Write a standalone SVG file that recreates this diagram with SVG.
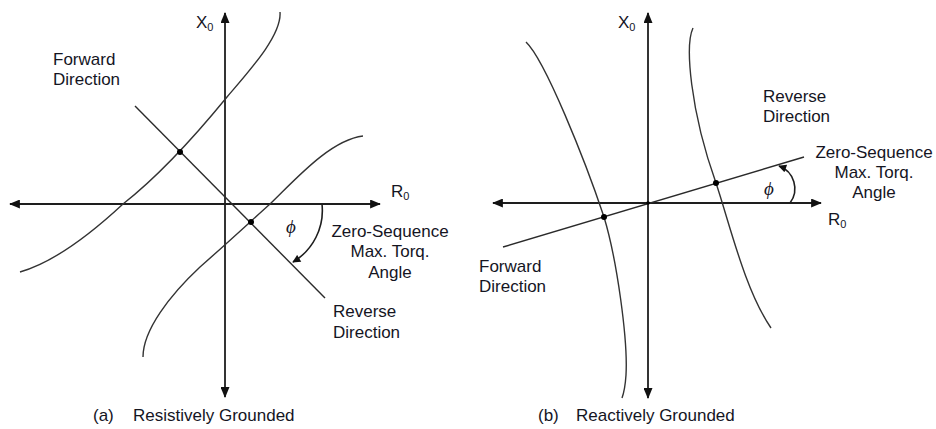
<svg xmlns="http://www.w3.org/2000/svg" width="936" height="429" viewBox="0 0 936 429">
<style>
  text { font-family: "Liberation Sans", Arial, sans-serif; font-size: 17px; fill: #15151f; }
  .mid { text-anchor: middle; }
  .sub { font-size: 11px; }
  .phi { font-family: "Liberation Serif", "DejaVu Serif", serif; font-style: italic; font-size: 19px; }
  .axis { stroke: #1e1e1e; stroke-width: 1.8; fill: none; }
  .line { stroke: #2a2a2a; stroke-width: 1.4; fill: none; }
  .curve { stroke: #333; stroke-width: 1.4; fill: none; }
  .arc { stroke: #1e1e1e; stroke-width: 1.6; fill: none; }
  .dot { fill: #000; }
</style>
<defs>
  <marker id="axA" viewBox="0 0 12 10" refX="11" refY="5" markerWidth="12" markerHeight="9" markerUnits="userSpaceOnUse" orient="auto-start-reverse">
    <path d="M0,0 L12,5 L0,10 z" fill="#111"/>
  </marker>
  <marker id="ahs" viewBox="0 0 10 10" refX="9" refY="5" markerWidth="9" markerHeight="8" markerUnits="userSpaceOnUse" orient="auto">
    <path d="M0,0 L10,5 L0,10 z" fill="#111"/>
  </marker>
</defs>
<rect width="936" height="429" fill="#fff"/>

<g id="connectors">
  <!-- panel (a) axes -->
  <path class="axis" d="M225,397 L225,13" marker-start="url(#axA)" marker-end="url(#axA)"/>
  <path class="axis" d="M10,204 L380,204" marker-start="url(#axA)" marker-end="url(#axA)"/>
  <!-- panel (b) axes -->
  <path class="axis" d="M648,398 L648,13" marker-start="url(#axA)" marker-end="url(#axA)"/>
  <path class="axis" d="M493,203 L821,203" marker-start="url(#axA)" marker-end="url(#axA)"/>
</g>

<g id="a-characteristics">
  <line class="line" x1="135" y1="106" x2="325" y2="298"/>
  <path class="curve" d="M20,272 C55,262 95,230 123,204 C160,175 200,130 227,97 C250,70 282,35 280,12"/>
  <path class="curve" d="M143,357 C143,330 170,295 200,267 C225,245 250,222 270,204 C295,180 330,140 363,136"/>
  <circle class="dot" cx="180" cy="152" r="3"/>
  <circle class="dot" cx="251" cy="222" r="3"/>
  <path class="arc" d="M322,204 A60,60 0 0 1 293,262" marker-end="url(#ahs)"/>
</g>

<g id="a-labels">
  <text x="196" y="28">X<tspan class="sub" dy="3">0</tspan></text>
  <text x="391" y="197">R<tspan class="sub" dy="3">0</tspan></text>
  <text x="53" y="65">Forward</text>
  <text x="53" y="85">Direction</text>
  <text class="phi" x="286" y="233">ϕ</text>
  <text class="mid" x="390" y="237">Zero-Sequence</text>
  <text class="mid" x="390" y="257">Max. Torq.</text>
  <text class="mid" x="390" y="278">Angle</text>
  <text x="333" y="317">Reverse</text>
  <text x="333" y="338">Direction</text>
  <text x="93" y="421">(a)</text>
  <text x="133" y="421">Resistively Grounded</text>
</g>

<g id="b-characteristics">
  <line class="line" x1="503" y1="247" x2="804" y2="157"/>
  <path class="curve" d="M526,42 C545,60 585,160 604,217 C617,260 628,340 626,375 Q625,390 622,398"/>
  <path class="curve" d="M693,28 C685,45 690,110 716,183 C730,225 745,290 771,328"/>
  <circle class="dot" cx="604" cy="217" r="3"/>
  <circle class="dot" cx="716" cy="183" r="3"/>
  <circle class="dot" cx="648" cy="203" r="1.8"/>
  <path class="arc" d="M790,203 A24,24 0 0 0 779,166" marker-end="url(#ahs)"/>
</g>

<g id="b-labels">
  <text x="618" y="28">X<tspan class="sub" dy="3">0</tspan></text>
  <text x="828" y="225">R<tspan class="sub" dy="3">0</tspan></text>
  <text x="763" y="102">Reverse</text>
  <text x="763" y="122">Direction</text>
  <text class="phi" x="764" y="195">ϕ</text>
  <text class="mid" x="874" y="158">Zero-Sequence</text>
  <text class="mid" x="874" y="178">Max. Torq.</text>
  <text class="mid" x="874" y="198">Angle</text>
  <text x="479" y="272">Forward</text>
  <text x="479" y="292">Direction</text>
  <text x="538" y="421">(b)</text>
  <text x="576" y="421">Reactively Grounded</text>
</g>
</svg>
